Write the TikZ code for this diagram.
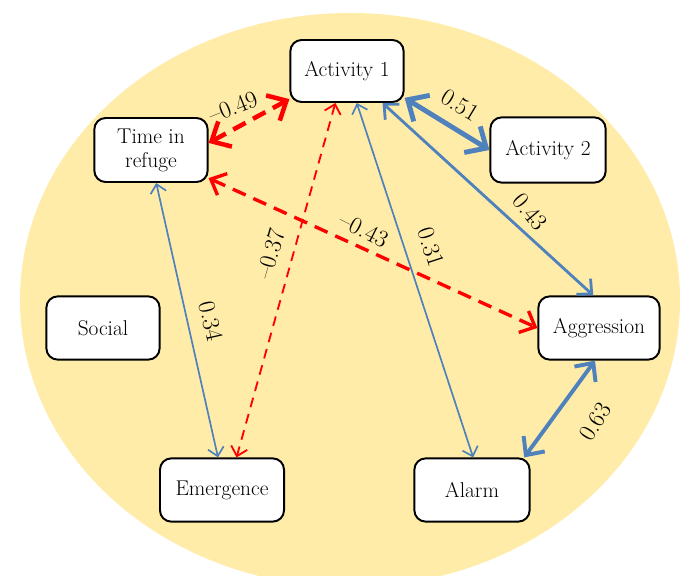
\documentclass[tikz,border=0pt]{standalone}
\usepackage{fontspec}
\usepackage{tikz}
\usetikzlibrary{arrows.meta}
\definecolor{bgYellow}{HTML}{FFECA8}
\definecolor{linkBlue}{HTML}{4F81BD}
\definecolor{linkRed}{HTML}{FF0000}

\begin{document}
\begin{tikzpicture}[x=0.025cm, y=-0.025cm,
    box/.style={draw, fill=white, line width=1.4pt, rounded corners=8pt, align=center,
        inner sep=2pt, font=\fontsize{15.2}{17}\selectfont},
    coef/.style={inner sep=0pt, font=\fontsize{17.3}{19}\selectfont},
    link/.style={{Straight Barb[length=3pt 2.5, width=6pt 4.5]}-{Straight Barb[length=3pt 2.5, width=6pt 4.5]}},
    pos/.style={link, linkBlue, line width=#1},
    neg/.style={link, linkRed, line width=#1}]
    \useasboundingbox (0, 0) rectangle (681, 576);
    \fill[bgYellow] (350, 300) ellipse [x radius=330, y radius=287];

    \node[box, minimum width=2.83cm, minimum height=1.55cm]  (act1) at (347, 71)  {Activity 1};
    \node[box, minimum width=2.83cm, minimum height=1.6cm]   (trf)  at (151, 150) {Time in\\refuge};
    \node[box, minimum width=2.88cm, minimum height=1.63cm]  (act2) at (548, 150) {Activity 2};
    \node[box, minimum width=2.83cm, minimum height=1.58cm]  (soc)  at (103, 328) {Social};
    \node[box, minimum width=3.03cm, minimum height=1.58cm]  (agg)  at (599, 328) {Aggression};
    \node[box, minimum width=3.1cm, minimum height=1.58cm]   (emg)  at (222, 490) {Emergence};
    \node[box, minimum width=2.88cm, minimum height=1.58cm]  (alm)  at (472, 490) {Alarm};

    \draw[neg=3.2pt, dash pattern=on 10pt off 6pt] (trf.7) -- (act1.206);
    \draw[pos=3.5pt] (act1.-25) -- (act2.west);
    \draw[pos=2pt] (act1.-42) -- (agg.100);
    \draw[pos=1.2pt] (act1.-73) -- (alm.88);
    \draw[neg=1.3pt, dash pattern=on 7pt off 5pt] (act1.-110) -- (emg.66);
    \draw[pos=1.2pt] (trf.-81) -- (emg.97);
    \draw[neg=2.4pt, dash pattern=on 10pt off 6pt] (trf.-26) -- (agg.west);
    \draw[pos=2.8pt] (agg.-97) -- (alm.32);

    \node[coef, rotate=22]  (c49) at (233, 107) {\textendash0.49};
    \node[coef, rotate=-31] (c51) at (460, 105) {0.51};
    \node[coef, rotate=-50] (c43) at (530, 212) {0.43};
    \node[coef, rotate=-27] (n43) at (364, 230) {\textendash0.43};
    \node[coef, rotate=-72] (c31) at (431, 247) {0.31};
    \node[coef, rotate=74]  (n37) at (271, 254) {\textendash0.37};
    \node[coef, rotate=-77] (c34) at (211, 321) {0.34};
    \node[coef, rotate=58]  (c63) at (595, 422) {0.63};
\end{tikzpicture}
\end{document}
